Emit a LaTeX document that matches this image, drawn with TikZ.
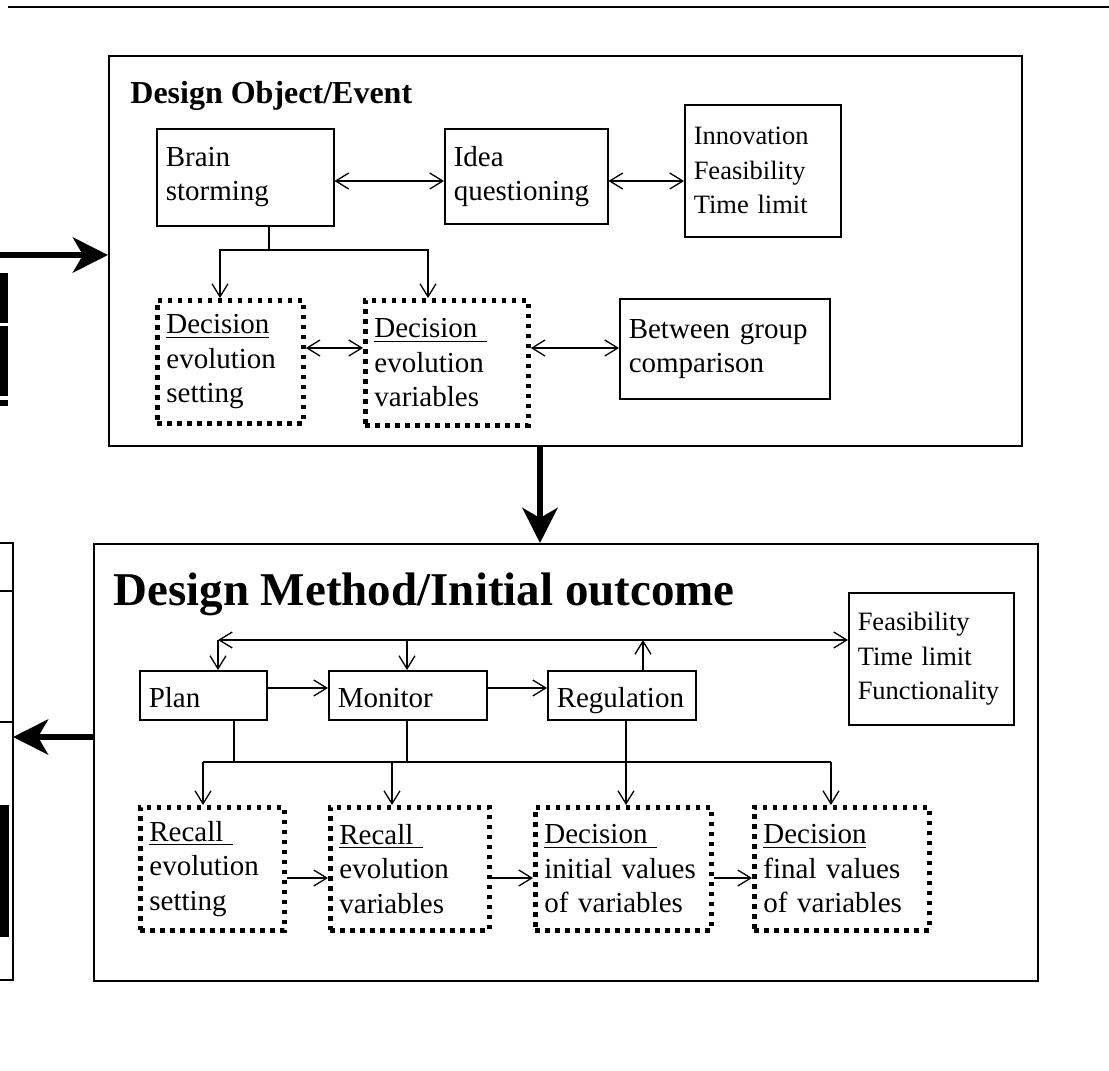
\documentclass[tikz,border=0pt]{standalone}
\usepackage{fontspec}
\setmainfont{Liberation Serif}
\usetikzlibrary{arrows.meta}

\tikzset{
  >={Straight Barb[length=6.5pt,width=8pt]},
  frame/.style={draw, line width=1pt, anchor=north west, inner sep=0pt},
  box/.style={draw, line width=0.75pt, anchor=north west, align=left,
    inner xsep=4.5pt, inner ysep=0pt, font=\fontsize{14.5}{17}\selectfont},
  listbox/.style={box, font=\fontsize{13.25}{17.25}\selectfont},
  onebox/.style={box, text height=13pt, text depth=1pt, minimum height=24.5pt},
  dotbox/.style={box, line width=2.4pt, dash pattern=on 2.4pt off 2.6pt,
    font=\fontsize{14.5}{17.25}\selectfont},
  heading/.style={anchor=base west, inner sep=0pt},
  link/.style={line width=0.65pt},
  bigarrow/.style={line width=3pt, -{Stealth[length=17.5pt,width=17.5pt,inset=5pt]}}
}

\begin{document}
\begin{tikzpicture}[x=0.5pt,y=-0.5pt]
  \useasboundingbox (0,0) rectangle (1109,1071);
  \draw[line width=1pt] (8,7) -- (1109,7);

  %% what is left of the boxes on the left
  \draw[line width=4pt] (4,273) -- (4,323) (4,326) -- (4,396) (4,400) -- (4,406);
  \draw[line width=1pt] (0,543) -- (13,543) -- (13,980) -- (0,980);
  \draw[line width=1pt] (0,591) -- (13,591) (0,722) -- (13,722);
  \fill (0,805) rectangle (9,937);

  %% Design Object/Event
  \node[frame, minimum width=456.5pt, minimum height=195pt] (objbox) at (108,55) {};
  \node[heading, font=\bfseries\fontsize{16}{19}\selectfont] (objtitle) at (130,103) {Design Object/Event};

  \node[box, text width=79.5pt, minimum height=48.5pt] (brain) at (156,128) {Brain\\storming};
  \node[box, text width=72.5pt, minimum height=47.5pt] (idea) at (444,128) {Idea\\questioning};
  \node[listbox, text width=69pt, minimum height=66pt] (innov) at (684,104) {Innovation\\Feasibility\\Time limit};
  \node[dotbox, text width=64pt, minimum height=61.5pt] (dec1) at (155,298) {\underline{Decision}\\evolution\\setting};
  \node[dotbox, text width=72.5pt, minimum height=62.5pt] (dec2) at (363,298) {\underline{Decision\ }\\evolution\\variables};
  \node[box, text width=96pt, minimum height=50pt] (between) at (619,298) {Between group\\comparison};

  \coordinate (r1) at (0,181);
  \coordinate (r2) at (0,348);
  \coordinate (bs) at (269,250);
  \coordinate (bsl) at (220,250);
  \coordinate (bsr) at (428,250);
  \draw[link,<->] (brain.east |- r1) -- (idea.west |- r1);
  \draw[link,<->] (idea.east |- r1) -- (innov.west |- r1);
  \draw[link] (brain.south -| bs) -- (bs);
  \draw[link,->] (bs) -- (bsl) -- (bsl |- dec1.north);
  \draw[link,->] (bs) -- (bsr) -- (bsr |- dec2.north);
  \draw[link,<->] (dec1.east |- r2) -- (dec2.west |- r2);
  \draw[link,<->] (dec2.east |- r2) -- (between.west |- r2);

  %% Design Method/Initial outcome
  \node[frame, minimum width=472pt, minimum height=218.5pt] (methbox) at (93,543) {};
  \node[heading, font=\bfseries\fontsize{23.5}{28}\selectfont] (methtitle) at (113,605) {Design Method/Initial outcome};

  \node[listbox, text width=73.5pt, minimum height=66pt] (feas) at (848,592) {Feasibility\\Time limit\\Functionality};
  \node[onebox, text width=54.5pt] (plan) at (139,670) {Plan};
  \node[onebox, text width=70pt] (monitor) at (328,670) {Monitor};
  \node[onebox, text width=65pt] (regul) at (547,670) {Regulation};
  \node[dotbox, text width=63pt, minimum height=61.5pt] (rec1) at (138,805) {\underline{Recall\ }\\evolution\\setting};
  \node[dotbox, text width=70.5pt, minimum height=61.5pt] (rec2) at (328,805) {\underline{Recall\ }\\evolution\\variables};
  \node[dotbox, text width=79pt, minimum height=61.5pt] (decini) at (533,805) {\underline{Decision\ }\\initial values\\of variables};
  \node[dotbox, text width=78.5pt, minimum height=61.5pt] (decfin) at (752,805) {\underline{Decision}\\final values\\of variables};

  \coordinate (tl) at (218,640);
  \coordinate (tm) at (407,640);
  \coordinate (tr) at (643,640);
  \coordinate (r3) at (0,688);
  \coordinate (r4) at (0,878);
  \coordinate (ps) at (234,762);
  \coordinate (ms) at (407,762);
  \coordinate (rs) at (626,762);
  \coordinate (b1) at (203,762);
  \coordinate (b2) at (392,762);
  \coordinate (b4) at (831,762);
  \draw[link,<->] (tl) -- (feas.west |- tl);
  \draw[link,->] (tl) -- (tl |- plan.north);
  \draw[link,->] (tm) -- (tm |- monitor.north);
  \draw[link,->] (regul.north -| tr) -- (tr);
  \draw[link,->] (plan.east |- r3) -- (monitor.west |- r3);
  \draw[link,->] (monitor.east |- r3) -- (regul.west |- r3);
  \draw[link] (plan.south -| ps) -- (ps);
  \draw[link] (monitor.south -| ms) -- (ms);
  \draw[link,->] (regul.south -| rs) -- (rs |- decini.north);
  \draw[link] (b1) -- (b4);
  \draw[link,->] (b1) -- (b1 |- rec1.north);
  \draw[link,->] (b2) -- (b2 |- rec2.north);
  \draw[link,->] (b4) -- (b4 |- decfin.north);
  \draw[link,->] (rec1.east |- r4) -- (rec2.west |- r4);
  \draw[link,->] (rec2.east |- r4) -- (decini.west |- r4);
  \draw[link,->] (decini.east |- r4) -- (decfin.west |- r4);

  %% between the two boxes and out to the left
  \coordinate (inarrow) at (0,255);
  \coordinate (midarrow) at (540,0);
  \coordinate (outarrow) at (13,737);
  \draw[bigarrow] (inarrow) -- (objbox.west |- inarrow);
  \draw[bigarrow] (objbox.south -| midarrow) -- (methbox.north -| midarrow);
  \draw[bigarrow] (methbox.west |- outarrow) -- (outarrow);
\end{tikzpicture}
\end{document}
